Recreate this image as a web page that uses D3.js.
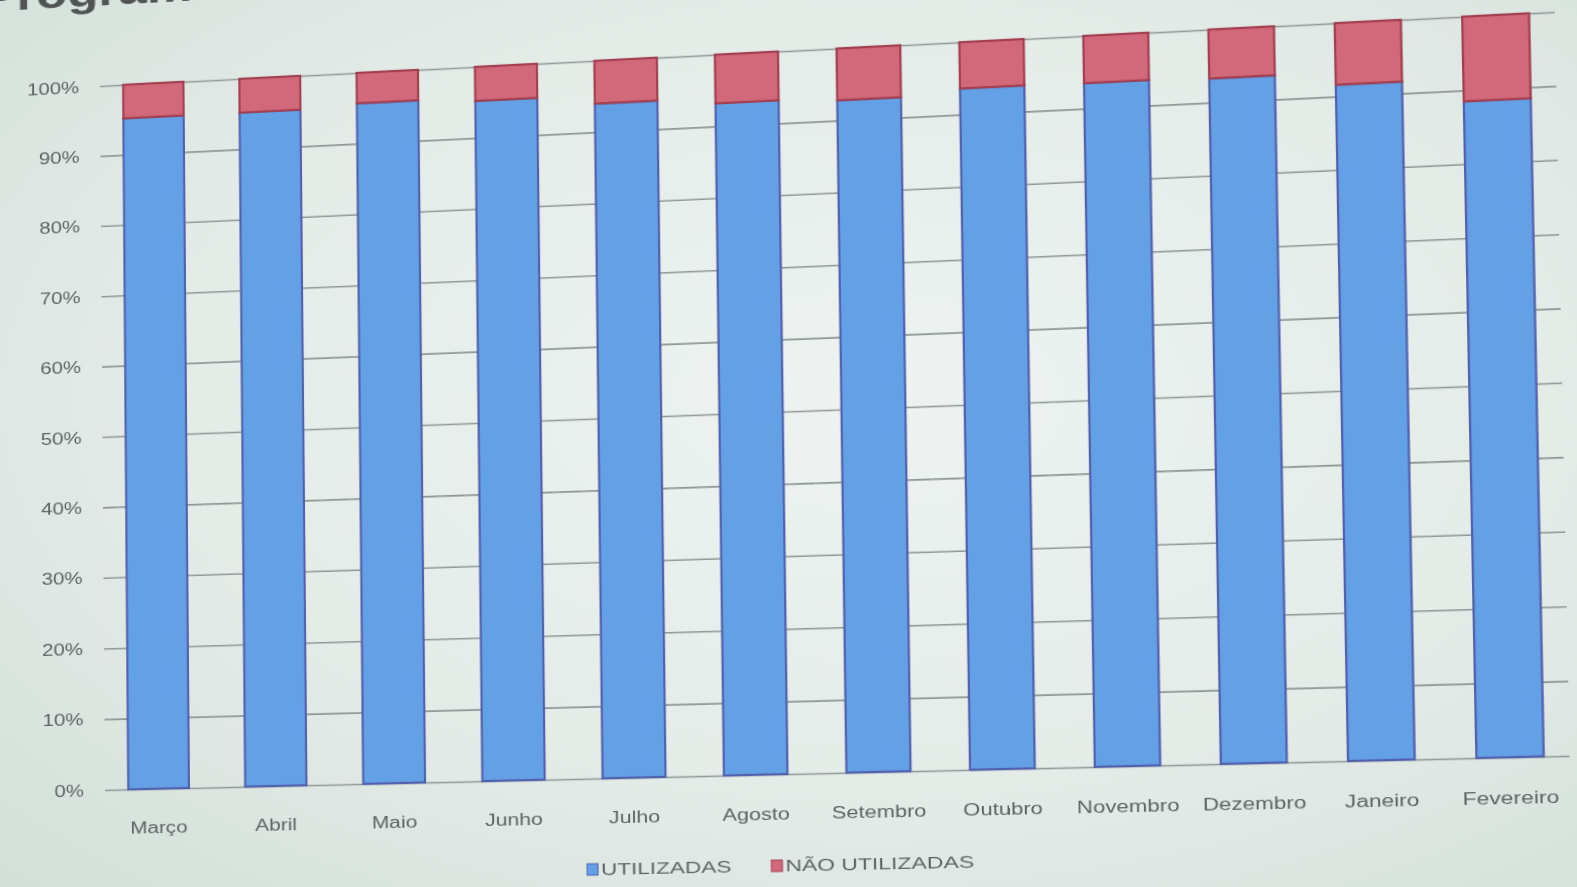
<!DOCTYPE html>
<html>
<head>
<meta charset="utf-8">
<script src="https://cdn.jsdelivr.net/npm/d3@7"></script>
<style>
  html, body { margin: 0; padding: 0; width: 1577px; height: 887px; overflow: hidden; }
  body { background: radial-gradient(ellipse at 55% 45%, #eef3f0 0%, #e4ece8 55%, #d4dfd9 100%); }
  #chart { position: absolute; left: 0; top: 0; transform-origin: 0 0; overflow: visible; }
  text { font-family: "Liberation Sans", Arial, sans-serif; }
</style>
</head>
<body>
<svg id="chart" width="1577" height="887"></svg>
<script>
const meses = ["Março", "Abril", "Maio", "Junho", "Julho", "Agosto", "Setembro",
  "Outubro", "Novembro", "Dezembro", "Janeiro", "Fevereiro"];
const utilizadas = [95.2, 95.2, 95.7, 95.2, 94.0, 93.2, 92.8, 93.6, 93.5, 93.3, 91.6, 88.5];
const naoUtilizadas = [4.8, 4.8, 4.3, 4.8, 6.0, 6.8, 7.2, 6.4, 6.5, 6.7, 8.4, 11.5];
const series = ["UTILIZADAS", "NÃO UTILIZADAS"];
const yTicks = [0, 0.1, 0.2, 0.3, 0.4, 0.5, 0.6, 0.7, 0.8, 0.9, 1];
const titulo = "Programa";

const cores = ["#64a0e6", "#d2697a"];
const bordas = ["#5161ad", "#a23f50"];
const stretch = 1.35; // texto do projetor esticado na horizontal

// area do grafico (plana)
const L = 100, R = 1555, T = 86, B = 790;

const svg = d3.select('#chart');

const x = d3.scaleBand(meses, [L, R]).paddingInner(0.48).paddingOuter(0.2);
const y = d3.scaleLinear([0, 1], [B, T]);

const rows = meses.map((m, i) => ({ mes: m, "UTILIZADAS": utilizadas[i], "NÃO UTILIZADAS": naoUtilizadas[i] }));
const stacked = d3.stack().keys(series).offset(d3.stackOffsetExpand)(rows);

// titulo cortado no topo
svg.append('text')
  .attr('transform', `translate(-24,5) scale(${stretch},1)`)
  .attr('font-size', 40)
  .attr('font-weight', 'bold')
  .attr('fill', '#505553')
  .text(titulo);

// grelha + eixo y
const yAxis = svg.append('g')
  .attr('transform', `translate(${L},0)`)
  .call(d3.axisLeft(y).tickValues(yTicks).tickSize(-(R - L)).tickPadding(22).tickFormat(d3.format('.0%')));
yAxis.select('.domain').remove();
yAxis.selectAll('line').attr('stroke', '#8f9995').attr('stroke-width', 1.6);
yAxis.selectAll('text')
  .attr('font-size', 16)
  .attr('fill', '#5f6462')
  .each(function () {
    const t = d3.select(this);
    const xx = +t.attr('x');
    t.attr('x', null).attr('transform', `translate(${xx},0) scale(${stretch},1)`);
  });

// barras empilhadas
svg.append('g')
  .selectAll('g')
  .data(stacked)
  .join('g')
  .attr('fill', (d, i) => cores[i])
  .attr('stroke', (d, i) => bordas[i])
  .attr('stroke-width', 2.2)
  .selectAll('rect')
  .data(d => d)
  .join('rect')
  .attr('x', d => x(d.data.mes))
  .attr('width', x.bandwidth())
  .attr('y', d => y(d[1]))
  .attr('height', d => y(d[0]) - y(d[1]));

// rotulos do eixo x
const xAxis = svg.append('g')
  .attr('transform', `translate(0,${B})`)
  .call(d3.axisBottom(x).tickSize(0).tickPadding(33));
xAxis.select('.domain').remove();
xAxis.selectAll('.tick text')
  .attr('font-size', 16)
  .attr('fill', '#5f6462')
  .attr('transform', `scale(${stretch},1)`);

// legenda
const legX = [596, 781];
const legend = svg.append('g').attr('transform', `translate(0,${B + 88})`);
series.forEach((s, i) => {
  const g = legend.append('g').attr('transform', `translate(${legX[i]},0)`);
  g.append('rect').attr('x', 0).attr('y', -5).attr('width', 11).attr('height', 11)
    .attr('fill', cores[i]).attr('stroke', bordas[i]).attr('stroke-width', 1);
  g.append('text').attr('transform', `translate(14,6) scale(1.42,1)`)
    .attr('font-size', 16).attr('fill', '#5f6462').text(s);
});

// perspectiva da foto: homografia do retangulo plano para o quadrilatero
function homografia(src, dst) {
  const A = [], b = [];
  for (let i = 0; i < 4; i++) {
    const [px, py] = src[i], [u, v] = dst[i];
    A.push([px, py, 1, 0, 0, 0, -px * u, -py * u]); b.push(u);
    A.push([0, 0, 0, px, py, 1, -px * v, -py * v]); b.push(v);
  }
  const n = 8;
  for (let c = 0; c < n; c++) {
    let p = c;
    for (let r = c + 1; r < n; r++) if (Math.abs(A[r][c]) > Math.abs(A[p][c])) p = r;
    [A[c], A[p]] = [A[p], A[c]]; [b[c], b[p]] = [b[p], b[c]];
    for (let r = 0; r < n; r++) {
      if (r === c) continue;
      const f = A[r][c] / A[c][c];
      for (let k = c; k < n; k++) A[r][k] -= f * A[c][k];
      b[r] -= f * b[c];
    }
  }
  return b.map((v, i) => v / A[i][i]);
}

const h = homografia(
  [[L, T], [R, T], [R, B], [L, B]],
  [[100, 86], [1555, 12], [1570, 756], [105, 790]]
);
document.getElementById('chart').style.transform =
  `matrix3d(${h[0]},${h[3]},0,${h[6]},${h[1]},${h[4]},0,${h[7]},0,0,1,0,${h[2]},${h[5]},0,1)`;
</script>
</body>
</html>
